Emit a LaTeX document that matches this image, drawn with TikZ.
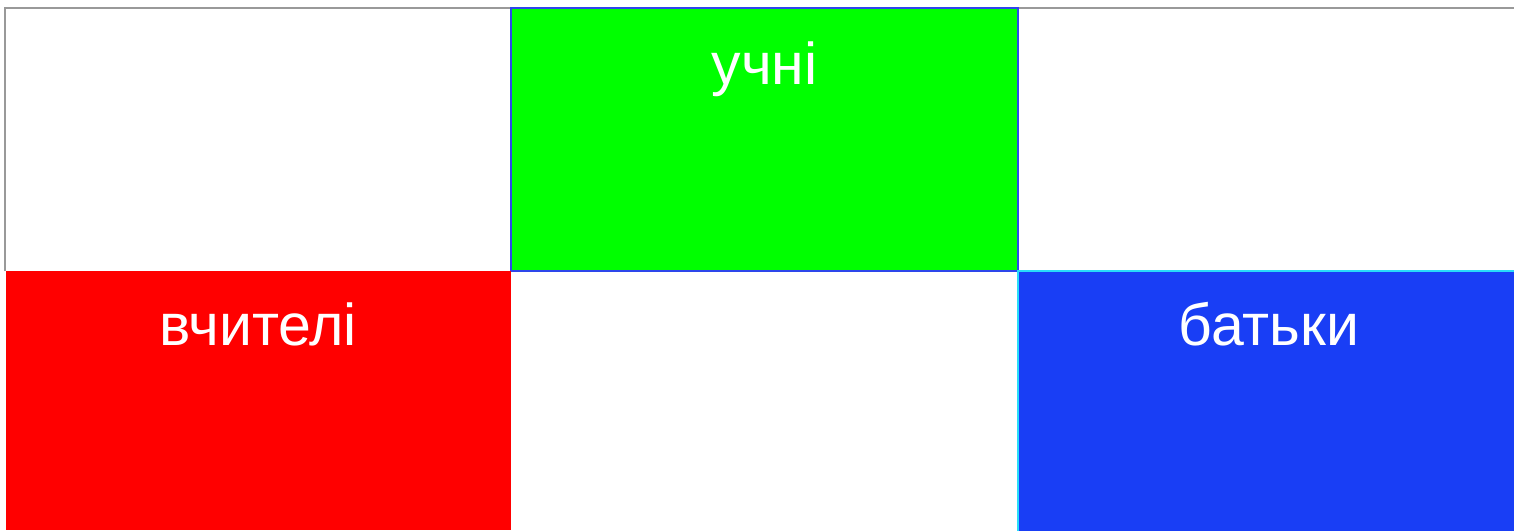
\documentclass[tikz,border=0pt]{standalone}
\usepackage{fontspec}
\setmainfont{Liberation Sans}
\usetikzlibrary{positioning}
\definecolor{pupilgreen}{RGB}{0,255,0}
\definecolor{teacherred}{RGB}{255,0,0}
\definecolor{parentblue}{RGB}{25,62,245}
\definecolor{edgeblue}{RGB}{45,70,235}
\definecolor{edgecyan}{RGB}{40,220,250}
\begin{document}
\begin{tikzpicture}[
    x=0.5pt, y=-0.5pt,
    cell/.style={rectangle, inner sep=0pt, outer sep=0pt, line width=1pt, minimum height=129.5pt},
    caption/.style={text=white, font=\fontsize{29.5}{35}\selectfont, anchor=base, inner sep=0pt}
]
    \useasboundingbox (0,0) rectangle (1514,530);
    \coordinate (frameA) at (5,271);
    \coordinate (frameB) at (5,8);
    \coordinate (frameC) at (1514,8);
    \draw[gray!80, line width=1pt] (frameA) -- (frameB) -- (frameC);

    \node[cell, fill=pupilgreen, draw=edgeblue, minimum width=253.5pt, minimum height=131.5pt] (pupils) at (764.5,139.5) {};
    \node[cell, fill=teacherred, minimum width=252.5pt] (teachers) at (258.5,400.5) {};
    \node[cell, fill=parentblue, draw=edgecyan, minimum width=251pt, minimum height=132.5pt] (parents) at (1269,403.5) {};

    \node[caption] (pupilstext) at ([yshift=-38pt]pupils.north) {учні};
    \node[caption] (teacherstext) at ([yshift=-37pt]teachers.north) {вчителі};
    \node[caption] (parentstext) at ([yshift=-37pt]parents.north) {батьки};
\end{tikzpicture}
\end{document}
